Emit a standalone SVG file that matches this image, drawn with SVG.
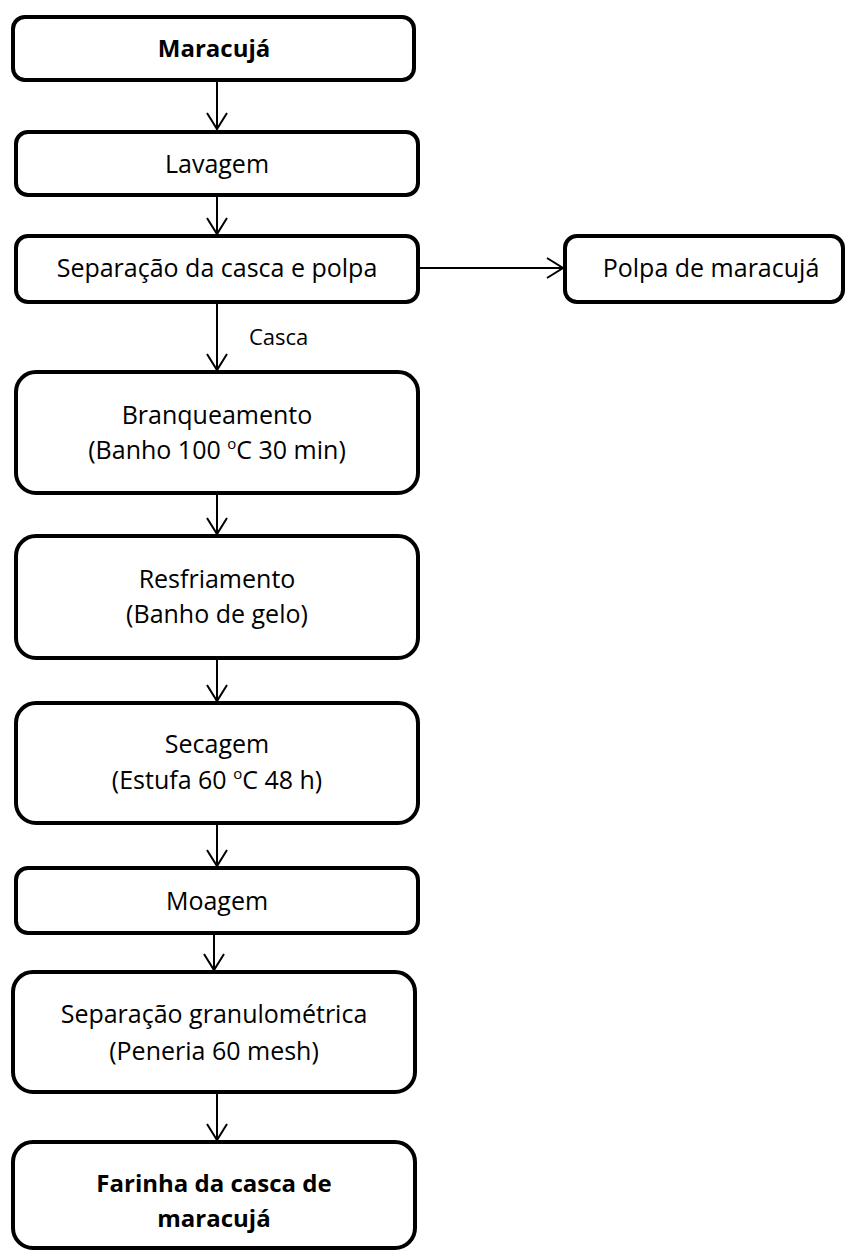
<svg xmlns="http://www.w3.org/2000/svg" width="847" height="1253" viewBox="0 0 847 1253">
<style>
.box{fill:#fff;stroke:#000;stroke-width:4}
.t{font-family:"Open Sans","Liberation Sans",sans-serif;font-size:25px;fill:#000;text-anchor:middle}
.b{font-weight:bold;font-size:24px}
.lbl{font-family:"Open Sans","Liberation Sans",sans-serif;font-size:22px;fill:#000}
.c{stroke:#000;stroke-width:2;fill:none}
</style>
<defs>
<marker id="arr" markerWidth="24" markerHeight="24" refX="20" refY="12" orient="auto" markerUnits="userSpaceOnUse">
<path d="M4,2 L20,12 L4,22" fill="none" stroke="#000" stroke-width="2"/>
</marker>
</defs>
<rect width="847" height="1253" fill="#fff"/>
<g id="connectors">
<line class="c" x1="217" y1="82" x2="217" y2="129" marker-end="url(#arr)"/>
<line class="c" x1="217" y1="197" x2="217" y2="234" marker-end="url(#arr)"/>
<line class="c" x1="420" y1="268" x2="563" y2="268" marker-end="url(#arr)"/>
<line class="c" x1="217" y1="304" x2="217" y2="370" marker-end="url(#arr)"/>
<line class="c" x1="217" y1="495" x2="217" y2="534" marker-end="url(#arr)"/>
<line class="c" x1="217" y1="660" x2="217" y2="701" marker-end="url(#arr)"/>
<line class="c" x1="217" y1="825" x2="217" y2="866" marker-end="url(#arr)"/>
<line class="c" x1="214" y1="935" x2="214" y2="970" marker-end="url(#arr)"/>
<line class="c" x1="217" y1="1094" x2="217" y2="1140" marker-end="url(#arr)"/>
<text class="lbl" x="249" y="345">Casca</text>
</g>
<g id="n1"><rect class="box" x="13" y="17" width="401" height="63" rx="12"/><text class="t b" x="214" y="57">Maracujá</text></g>
<g id="n2"><rect class="box" x="16" y="132" width="402" height="63" rx="12"/><text class="t" x="217" y="173">Lavagem</text></g>
<g id="n3"><rect class="box" x="16" y="236" width="402" height="66" rx="12"/><text class="t" x="217" y="277">Separação da casca e polpa</text></g>
<g id="n4"><rect class="box" x="565" y="236" width="278" height="66" rx="12"/><text class="t" x="711" y="277">Polpa de maracujá</text></g>
<g id="n5"><rect class="box" x="16" y="372" width="402" height="121" rx="20"/><text class="t" x="217" y="424">Branqueamento</text><text class="t" x="217" y="459">(Banho 100 <tspan dy="-10" font-size="15">o</tspan><tspan dy="10">C 30 min)</tspan></text></g>
<g id="n6"><rect class="box" x="16" y="536" width="402" height="122" rx="20"/><text class="t" x="217" y="588">Resfriamento</text><text class="t" x="217" y="623">(Banho de gelo)</text></g>
<g id="n7"><rect class="box" x="16" y="703" width="402" height="120" rx="20"/><text class="t" x="217" y="753">Secagem</text><text class="t" x="217" y="789">(Estufa 60 <tspan dy="-10" font-size="15">o</tspan><tspan dy="10">C 48 h)</tspan></text></g>
<g id="n8"><rect class="box" x="16" y="868" width="402" height="65" rx="12"/><text class="t" x="217" y="910">Moagem</text></g>
<g id="n9"><rect class="box" x="13" y="972" width="402" height="120" rx="20"/><text class="t" x="214" y="1023">Separação granulométrica</text><text class="t" x="214" y="1060">(Peneria 60 mesh)</text></g>
<g id="n10"><rect class="box" x="13" y="1142" width="402" height="106" rx="20"/><text class="t b" x="214" y="1192">Farinha da casca de</text><text class="t b" x="214" y="1227">maracujá</text></g>
</svg>
